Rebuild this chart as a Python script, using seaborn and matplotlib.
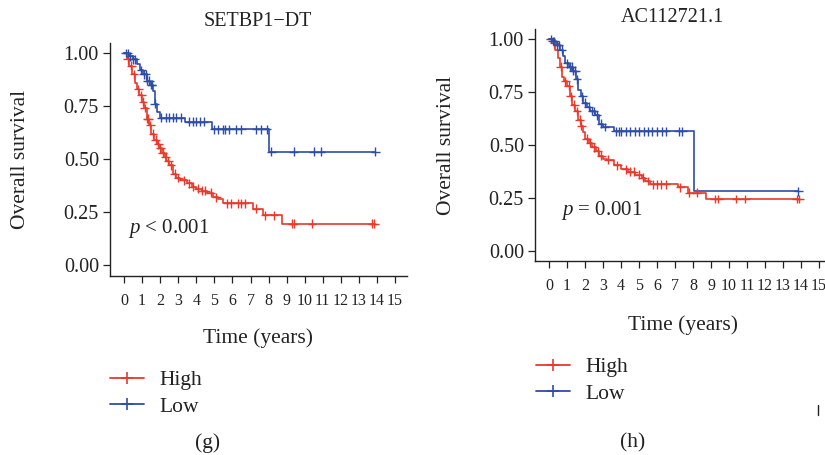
#%% LIB
import numpy as np
import pandas as pd
import matplotlib
matplotlib.use("Agg")
import matplotlib.pyplot as plt
from matplotlib.lines import Line2D
import seaborn as sns

#%% DATA
# ---------------------------------------------------
# Kaplan-Meier steps
# ---------------------------------------------------
groups = ["High", "Low"]
colors = {"High": "#E8392B", "Low": "#2E4DA7"}
x_ticks = list(range(0, 16))
y_ticks = [0.00, 0.25, 0.50, 0.75, 1.00]

# (g) SETBP1-DT
g_high_time = [0, 0.15, 0.3, 0.45, 0.6, 0.7, 0.85, 1.0, 1.1, 1.25, 1.4, 1.5, 1.65, 1.8,
               1.95, 2.1, 2.25, 2.35, 2.5, 2.7, 2.9, 3.1, 3.5, 3.75, 4.0, 4.3, 4.6,
               4.95, 5.2, 5.5, 7.15, 7.7, 8.75, 13.9]
g_high_surv = [1.0, 0.97, 0.94, 0.90, 0.86, 0.83, 0.80, 0.77, 0.74, 0.69, 0.66, 0.62,
               0.59, 0.57, 0.55, 0.53, 0.51, 0.49, 0.47, 0.43, 0.41, 0.40, 0.385, 0.37,
               0.36, 0.35, 0.34, 0.32, 0.31, 0.29, 0.265, 0.235, 0.195, 0.195]
g_high_cens = [0.2, 0.4, 0.55, 0.8, 0.95, 1.05, 1.15, 1.3, 1.35, 1.45, 1.6, 1.75, 1.9,
               2.0, 2.15, 2.3, 2.45, 2.6, 2.8, 3.0, 3.3, 3.6, 3.8, 4.1, 4.3, 4.5, 4.8,
               5.1, 5.7, 5.9, 6.3, 6.5, 6.7, 7.3, 7.8, 8.3, 9.3, 9.4, 10.4, 13.75, 13.85]

g_low_time = [0, 0.3, 0.5, 0.7, 0.9, 1.05, 1.25, 1.45, 1.6, 1.7, 1.8, 2.0, 3.4, 4.85,
              8.05, 13.9]
g_low_surv = [1.0, 0.985, 0.97, 0.95, 0.92, 0.90, 0.87, 0.85, 0.82, 0.76, 0.72, 0.695,
              0.675, 0.64, 0.535, 0.535]
g_low_cens = [0.1, 0.2, 0.35, 0.5, 0.6, 0.95, 1.1, 1.2, 1.3, 1.4, 1.5, 1.55, 1.7, 2.05,
              2.3, 2.5, 2.7, 2.9, 3.15, 3.6, 3.8, 4.0, 4.2, 4.4, 5.0, 5.2, 5.5, 5.6,
              5.8, 6.2, 6.5, 7.3, 7.6, 7.9, 8.15, 9.4, 10.5, 10.9, 13.9]

# (h) AC112721.1
h_high_time = [0, 0.2, 0.35, 0.5, 0.6, 0.7, 0.85, 1.0, 1.15, 1.3, 1.45, 1.6, 1.75, 1.9,
               2.0, 2.2, 2.4, 2.6, 2.75, 3.0, 3.2, 3.6, 4.0, 4.4, 4.8, 5.15, 5.35, 5.6,
               7.15, 7.7, 8.7, 13.9]
h_high_surv = [1.0, 0.98, 0.95, 0.91, 0.87, 0.82, 0.80, 0.78, 0.73, 0.69, 0.66, 0.62,
               0.59, 0.56, 0.53, 0.51, 0.49, 0.47, 0.45, 0.435, 0.43, 0.405, 0.385,
               0.375, 0.36, 0.345, 0.33, 0.315, 0.30, 0.275, 0.245, 0.245]
h_high_cens = [0.3, 0.65, 0.9, 1.1, 1.2, 1.4, 1.55, 1.7, 1.8, 2.1, 2.3, 2.5, 2.7, 2.9,
               3.3, 3.8, 4.3, 4.5, 4.7, 5.0, 5.2, 5.5, 5.8, 6.0, 6.2, 6.5, 7.3, 7.8,
               8.2, 9.2, 9.4, 10.4, 10.9, 13.75, 13.9]

h_low_time = [0, 0.2, 0.4, 0.6, 0.8, 0.9, 1.1, 1.3, 1.5, 1.6, 1.75, 1.9, 2.1, 2.3, 2.55,
              2.75, 3.0, 3.6, 8.07, 13.85]
h_low_surv = [1.0, 0.99, 0.97, 0.95, 0.92, 0.885, 0.87, 0.85, 0.81, 0.76, 0.73, 0.70,
              0.68, 0.66, 0.64, 0.60, 0.585, 0.565, 0.282, 0.282]
h_low_cens = [0.1, 0.2, 0.3, 0.45, 0.55, 0.7, 1.0, 1.15, 1.25, 1.35, 1.45, 1.55, 1.85,
              2.0, 2.2, 2.4, 2.5, 2.65, 2.9, 3.1, 3.7, 3.9, 4.0, 4.3, 4.5, 4.8, 5.0,
              5.3, 5.5, 5.7, 6.0, 6.3, 6.5, 7.2, 7.4, 13.85]


def km_frames(high_t, high_s, high_c, low_t, low_s, low_c):
    steps = pd.concat([
        pd.DataFrame({"time": high_t, "surv": high_s, "group": "High"}),
        pd.DataFrame({"time": low_t, "surv": low_s, "group": "Low"}),
    ])
    cens = []
    for g, t, s, c in [("High", high_t, high_s, high_c), ("Low", low_t, low_s, low_c)]:
        idx = np.searchsorted(t, c, side="right") - 1
        cens.append(pd.DataFrame({"time": c, "surv": np.array(s)[idx], "group": g}))
    return steps, pd.concat(cens)


#%% PLOT
sns.set_theme(style="ticks")
plt.rcParams["font.family"] = ["Liberation Serif", "DejaVu Serif"]
plt.rcParams["mathtext.fontset"] = "custom"
plt.rcParams["mathtext.it"] = "Liberation Serif:italic"

W, H = 825, 455
INK = "#222222"
fig = plt.figure(figsize=(W / 100, H / 100), dpi=100)


def px_axes(x0, y0, x1, y1):
    return fig.add_axes([x0 / W, 1 - y1 / H, (x1 - x0) / W, (y1 - y0) / H])


def px_text(xy, s, **kw):
    fig.text(xy[0] / W, 1 - xy[1] / H, s, color=INK, **kw)


panels = [
    dict(box=(110, 43, 407, 276), xlim=(-0.775, 15.66), ylim=(-0.052, 1.047),
         data=(g_high_time, g_high_surv, g_high_cens, g_low_time, g_low_surv, g_low_cens),
         title="SETBP1\u2212DT", title_xy=(258, 22), pval="$p$ < 0.001", p_xy=(128, 228),
         ylab_xy=(21, 159), xlab_xy=(258, 338), leg_xy=(110, 370), tag="(g)", tag_xy=(208, 443)),
    dict(box=(535, 29, 825, 261), xlim=(-0.78, 15.33), ylim=(-0.047, 1.047),
         data=(h_high_time, h_high_surv, h_high_cens, h_low_time, h_low_surv, h_low_cens),
         title="AC112721.1", title_xy=(672, 18), pval="$p$ = 0.001", p_xy=(561, 210),
         ylab_xy=(446, 145), xlab_xy=(683, 325), leg_xy=(536, 357), tag="(h)", tag_xy=(633, 443)),
]

for p in panels:
    ax = px_axes(*p["box"])
    steps, cens = km_frames(*p["data"])
    sns.lineplot(data=steps, x="time", y="surv", hue="group", palette=colors,
                 drawstyle="steps-post", estimator=None, linewidth=1.2,
                 legend=False, ax=ax)
    sns.scatterplot(data=cens, x="time", y="surv", hue="group", palette=colors,
                    marker="+", s=40, linewidth=1.0, legend=False, ax=ax, zorder=3)
    ax.set_xlim(*p["xlim"])
    ax.set_ylim(*p["ylim"])
    ax.set_xticks(x_ticks)
    ax.set_xticklabels([str(v) for v in x_ticks], fontsize=11.5)
    ax.set_yticks(y_ticks)
    ax.set_yticklabels([f"{v:.2f}" for v in y_ticks], fontsize=14.5)
    ax.tick_params(axis="x", length=5, width=0.9, pad=7, colors=INK)
    ax.tick_params(axis="y", length=5, width=0.9, pad=3, colors=INK)
    ax.set_xlabel("")
    ax.set_ylabel("")
    for side in ["top", "right"]:
        ax.spines[side].set_visible(False)
    for side in ["left", "bottom"]:
        ax.spines[side].set_linewidth(1.0)
        ax.spines[side].set_color(INK)

    px_text(p["title_xy"], p["title"], ha="center", va="center", fontsize=14.5)
    px_text(p["p_xy"], p["pval"], ha="left", va="center", fontsize=15)
    px_text(p["ylab_xy"], "Overall survival", ha="center", va="center",
            rotation=90, fontsize=15.5)
    px_text(p["xlab_xy"], "Time (years)", ha="center", va="center", fontsize=15.5)
    px_text(p["tag_xy"], p["tag"], ha="center", va="center", fontsize=15.5)

    handles = [Line2D([0], [0], color=colors[g], lw=1.3, marker="+", markersize=8,
                      markeredgewidth=1.2) for g in groups]
    fig.legend(handles, groups, loc="upper left",
               bbox_to_anchor=(p["leg_xy"][0] / W, 1 - p["leg_xy"][1] / H),
               frameon=False, fontsize=15.5, handlelength=1.6, handletextpad=0.7,
               labelspacing=0.3, borderpad=0, borderaxespad=0, labelcolor=INK)

# stray tick at the lower right of the panel
fig.add_artist(Line2D([818 / W, 818 / W], [1 - 405 / H, 1 - 415 / H], color=INK, lw=1))

fig.savefig("out.png", dpi=100)
